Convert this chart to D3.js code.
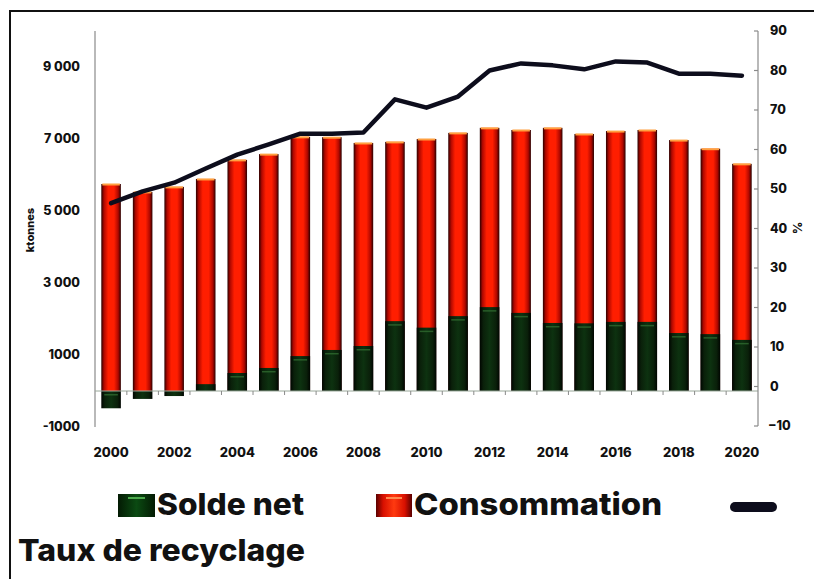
<!DOCTYPE html>
<html><head><meta charset="utf-8">
<script src="https://cdn.jsdelivr.net/npm/d3@7"></script>
<style>
html,body{margin:0;padding:0;background:#fff;}
svg{display:block;font-family:Inter,"Open Sans",sans-serif;}
</style></head>
<body>
<svg id="chart" width="814" height="579"></svg>
<script>
const years = ["2000","2001","2002","2003","2004","2005","2006","2007","2008","2009","2010","2011","2012","2013","2014","2015","2016","2017","2018","2019","2020"];
const consommation = [5750,5530,5670,5890,6420,6580,7060,7050,6890,6920,7000,7170,7310,7250,7310,7140,7220,7250,6970,6730,6310];
const soldeNet = [-480,-220,-140,190,500,640,970,1140,1250,1940,1760,2080,2330,2170,1890,1880,1920,1920,1610,1580,1420];
const tauxRecyclage = [46.4,49.4,51.6,55.2,58.7,61.3,64,64,64.3,72.7,70.6,73.4,80,81.8,81.3,80.3,82.3,82,79.2,79.2,78.7];
const leftTicks = [-1000,1000,3000,5000,7000,9000];
const leftTickLabels = ["-1000","1000","3 000","5 000","7 000","9 000"];
const rightTicks = [-10,0,10,20,30,40,50,60,70,80,90];
const xLabelYears = ["2000","2002","2004","2006","2008","2010","2012","2014","2016","2018","2020"];

const svg = d3.select("#chart");
const defs = svg.append("defs");
function hGrad(id, stops){
  const g = defs.append("linearGradient").attr("id",id).attr("x1","0").attr("x2","1").attr("y1","0").attr("y2","0");
  stops.forEach(s=>g.append("stop").attr("offset",s[0]).attr("stop-color",s[1]));
}
hGrad("gRed",[[0,"#2a0000"],[0.14,"#b00800"],[0.35,"#ff1e00"],[0.65,"#ff1e00"],[0.86,"#b00800"],[1,"#2a0000"]]);
hGrad("gGreen",[[0,"#000500"],[0.18,"#0a200a"],[0.5,"#0d3210"],[0.82,"#0a200a"],[1,"#000500"]]);
hGrad("gRedLeg",[[0,"#5a0000"],[0.2,"#d81000"],[0.5,"#ff3a10"],[0.8,"#d81000"],[1,"#5a0000"]]);
hGrad("gGreenLeg",[[0,"#031a03"],[0.5,"#0b4a12"],[1,"#031a03"]]);

const x = d3.scaleBand().domain(years).range([95,758]).paddingInner(0.38).paddingOuter(0.2);
const yL = d3.scaleLinear().domain([-1000,10000]).range([427,31]);
const yR = d3.scaleLinear().domain([-10,90]).range([426,31]);

// border
svg.append("path").attr("d","M10,579V11H814").attr("fill","none").attr("stroke","#111").attr("stroke-width",2);

const axisColor = "#8a8a8a";
// left axis line
svg.append("line").attr("x1",95).attr("x2",95).attr("y1",yL(10000)).attr("y2",yL(-1000)).attr("stroke",axisColor).attr("stroke-width",1.2);
svg.append("g").selectAll("text").data(leftTicks).join("text")
  .attr("x",80).attr("y",d=>yL(d)).attr("dy","0.35em").attr("text-anchor","end")
  .attr("font-size",12.5).attr("font-weight",800).attr("fill","#111")
  .text((d,i)=>leftTickLabels[i]);
svg.append("text").attr("transform","translate(34,230) rotate(-90)").attr("text-anchor","middle")
  .attr("font-size",11).attr("font-weight",800).attr("fill","#111").text("ktonnes");

// bars: consommation
const bars = svg.append("g");
bars.selectAll("rect.c").data(years).join("rect").attr("class","c")
  .attr("x",d=>x(d)).attr("width",x.bandwidth())
  .attr("y",(d,i)=>yL(consommation[i])).attr("height",(d,i)=>yL(0)-yL(consommation[i]))
  .attr("fill","url(#gRed)");
bars.selectAll("rect.ct").data(years).join("rect").attr("class","ct")
  .attr("x",d=>x(d)+1).attr("width",x.bandwidth()-2)
  .attr("y",(d,i)=>yL(consommation[i])-0.5).attr("height",2)
  .attr("fill","#ffa040");
// solde net
bars.selectAll("rect.s").data(years).join("rect").attr("class","s")
  .attr("x",d=>x(d)).attr("width",x.bandwidth())
  .attr("y",(d,i)=>yL(Math.max(0,soldeNet[i]))).attr("height",(d,i)=>Math.abs(yL(0)-yL(soldeNet[i])))
  .attr("fill","url(#gGreen)");
bars.selectAll("rect.st").data(years).join("rect").attr("class","st")
  .attr("x",d=>x(d)+3).attr("width",x.bandwidth()-6)
  .attr("y",(d,i)=>yL(Math.max(0,soldeNet[i]))+3).attr("height",1.5)
  .attr("fill","#2f6a2f").attr("opacity",(d,i)=>Math.abs(soldeNet[i])>300?0.8:0);

// x axis at zero
const y0 = yL(0);
svg.append("line").attr("x1",95).attr("x2",758).attr("y1",y0).attr("y2",y0).attr("stroke","#9aa89a").attr("stroke-width",1);
svg.append("g").selectAll("line").data(years.slice(1)).join("line")
  .attr("x1",d=>x(d)-x.step()*x.paddingInner()/2).attr("x2",d=>x(d)-x.step()*x.paddingInner()/2)
  .attr("y1",y0).attr("y2",y0+4).attr("stroke",axisColor).attr("stroke-width",1);
svg.append("g").selectAll("text").data(xLabelYears).join("text")
  .attr("x",d=>x(d)+x.bandwidth()/2).attr("y",452).attr("dy","0.35em").attr("text-anchor","middle")
  .attr("font-size",13).attr("font-weight",800).attr("fill","#111").text(d=>d);

// right axis
const rAxis = svg.append("g").attr("transform","translate(758,0)");
rAxis.append("line").attr("y1",yR(90)).attr("y2",yR(-10)).attr("stroke",axisColor).attr("stroke-width",1.2);
rAxis.selectAll("line.t").data(rightTicks).join("line").attr("class","t")
  .attr("x1",-4).attr("x2",0).attr("y1",d=>yR(d)).attr("y2",d=>yR(d)).attr("stroke",axisColor).attr("stroke-width",1.2);
rAxis.selectAll("text").data(rightTicks).join("text")
  .attr("x",d=>d<0?10:12).attr("y",d=>yR(d)).attr("dy","0.35em")
  .attr("font-size",12.5).attr("font-weight",800).attr("fill","#111").text(d=>d<0?"−"+Math.abs(d):d);
svg.append("text").attr("transform","translate(797,228) rotate(90)").attr("text-anchor","middle").attr("dy","0.35em")
  .attr("font-size",12).attr("font-weight",800).attr("fill","#111").text("%");

// line
const line = d3.line().x((d,i)=>x(years[i])+x.bandwidth()/2).y(d=>yR(d));
svg.append("path").datum(tauxRecyclage).attr("d",line).attr("fill","none")
  .attr("stroke","#0d0d1c").attr("stroke-width",4.5).attr("stroke-linejoin","round").attr("stroke-linecap","round");

// legend
const leg = svg.append("g");
leg.append("rect").attr("x",118).attr("y",494).attr("width",37).attr("height",23).attr("fill","url(#gGreenLeg)");
leg.append("rect").attr("x",128).attr("y",497).attr("width",17).attr("height",2).attr("fill","#4caa4c");
leg.append("text").attr("x",157).attr("y",515).attr("font-size",30).attr("font-weight",800).attr("fill","#111")
  .attr("textLength",147).attr("lengthAdjust","spacingAndGlyphs").text("Solde net");
leg.append("rect").attr("x",376).attr("y",494).attr("width",36).attr("height",23).attr("fill","url(#gRedLeg)");
leg.append("rect").attr("x",386).attr("y",497).attr("width",16).attr("height",2).attr("fill","#ff8a50");
leg.append("text").attr("x",414).attr("y",515).attr("font-size",30).attr("font-weight",800).attr("fill","#111")
  .attr("textLength",248).attr("lengthAdjust","spacingAndGlyphs").text("Consommation");
leg.append("line").attr("x1",735).attr("x2",772).attr("y1",507).attr("y2",507).attr("stroke","#0d0d1c").attr("stroke-width",10).attr("stroke-linecap","round");
leg.append("text").attr("x",18).attr("y",561).attr("font-size",30).attr("font-weight",800).attr("fill","#111")
  .attr("textLength",287).attr("lengthAdjust","spacingAndGlyphs").text("Taux de recyclage");
</script>
</body></html>
